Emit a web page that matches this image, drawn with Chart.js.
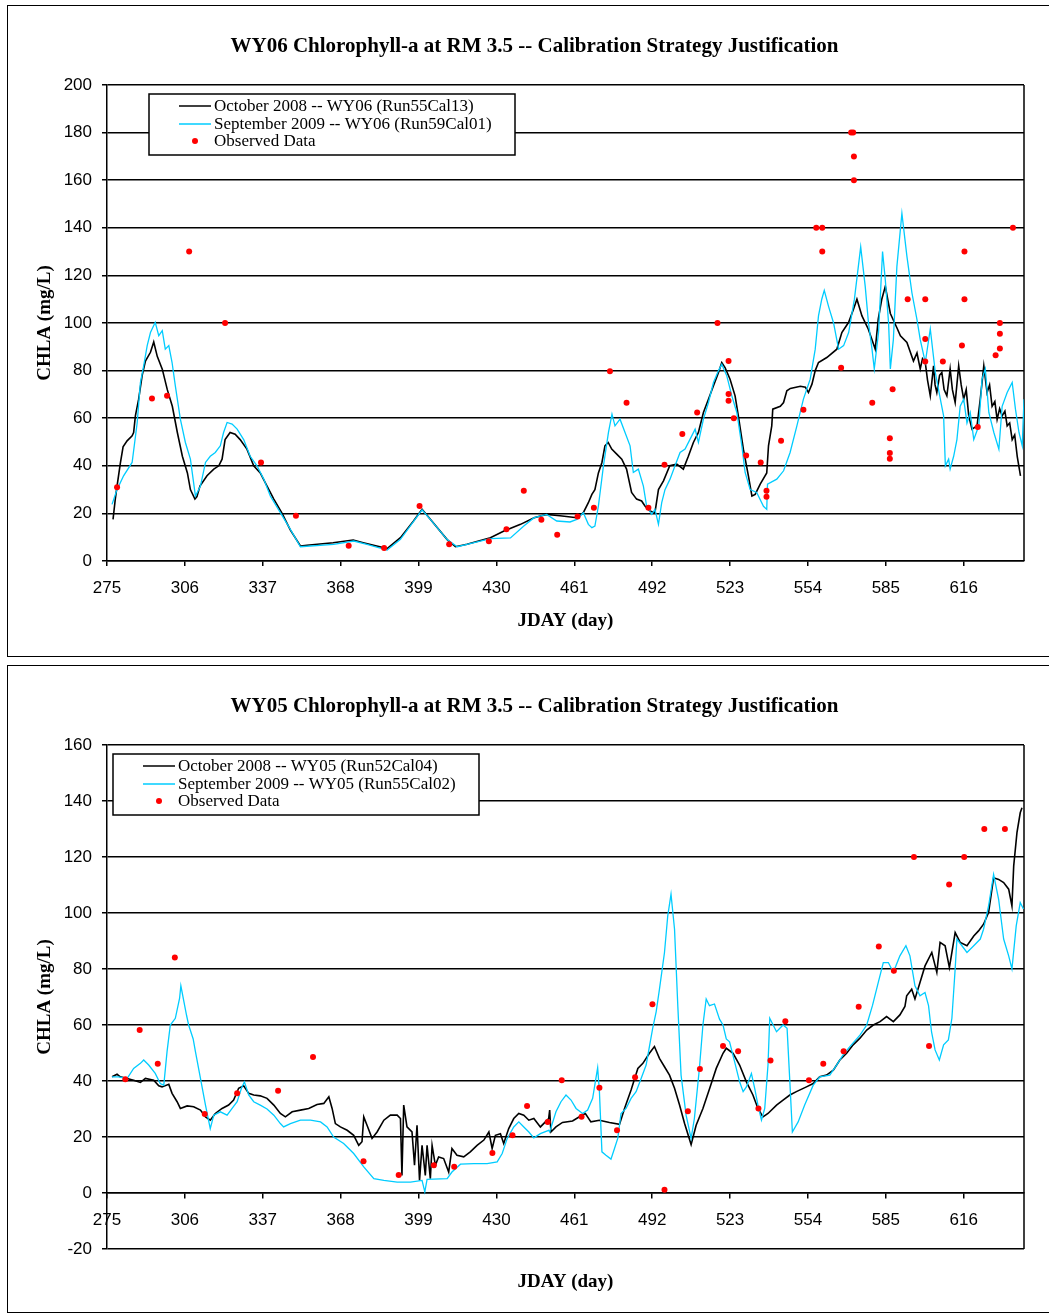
<!DOCTYPE html>
<html>
<head>
<meta charset="utf-8">
<script src="https://cdn.jsdelivr.net/npm/chart.js@4.4.1/dist/chart.umd.min.js"></script>
<style>
  body { margin: 0; background: #fff; width: 1049px; height: 1314px; overflow: hidden; position: relative; }
  .frame { position: absolute; left: 7px; width: 1080px; border: 1.5px solid #000; box-sizing: border-box; }
  #f1 { top: 5px; height: 652px; }
  #f2 { top: 665px; height: 648px; }
  canvas { position: absolute; left: 0; }
  #c1 { top: 0; }
  #c2 { top: 660px; }
</style>
</head>
<body>
<div class="frame" id="f1"></div>
<div class="frame" id="f2"></div>
<canvas id="c1" width="1049" height="660"></canvas>
<canvas id="c2" width="1049" height="654"></canvas>
<script>
// x ticks (JDAY) shared by both charts
const xTickDays = [275, 306, 337, 368, 399, 430, 461, 492, 523, 554, 585, 616];
const yTicksWY06 = [0, 20, 40, 60, 80, 100, 120, 140, 160, 180, 200];
const yTicksWY05 = [-20, 0, 20, 40, 60, 80, 100, 120, 140, 160];

// WY06 - [day, chla]
const wy06Oct = [
  [277.4,17.5],[278.3,26],[279,31.5],[280.3,41],[281.4,48],[283,50.5],[285,52.6],[285.6,54],[286.3,61],[287.6,68],
  [289,78],[290.3,84],[292.3,87.7],[293.6,92],[295,86],[297,80.6],[299,72],[301,65],[303,54],[305,44],
  [307,37],[308.2,30],[310,26],[310.8,27],[312,31.5],[314.8,35.8],[317.5,38.6],[319.5,40],[320.8,42.8],[322,51],
  [324,54],[326,53.3],[328,51],[330.7,47],[333.4,40],[336,37],[338.7,31.5],[341.4,26],[344.7,20],[348,13],
  [352,6.3],[354.6,6.6],[365,7.7],[373,8.8],[377,7.7],[386.5,5.2],[391.8,9.8],[397,16.8],[400.4,21.7],[403.7,17.5],
  [410.4,9],[413.7,6],[418.3,7],[427.6,9.8],[433,12.6],[439.6,15.4],[445,18.2],[450,19.6],[455.3,19],[462,18.2],
  [464.6,20.3],[466.6,24.5],[468,28],[469.2,30],[470.6,37],[472,41.4],[473.2,48.4],[474.5,49.8],[475.9,47],[477.9,44.9],
  [479.9,42.8],[481.8,38.6],[483.8,28.8],[485.8,26],[487.8,25.2],[489.2,23],[491.1,21],[493.1,20.3],[494.5,30],[496.5,33.7],
  [499,40],[501.8,40.7],[504.4,38.6],[506.4,44],[508.4,49.8],[510.4,54],[512.4,62.4],[514.4,68],[516.4,73.6],[518.4,79.2],
  [519.7,83.4],[521,81.3],[523,76.4],[525,69.4],[526.3,61],[528.3,47],[530.3,35.8],[531.7,27.3],[533,28],[535,32.3],
  [537.6,37],[538.3,48.4],[539.6,56.8],[540,63.8],[543,65],[544.3,66.6],[545.6,71.5],[547,72.5],[551,73.4],[553,73],
  [554.2,70.8],[555.6,74.3],[556.9,80],[558.2,83.4],[561.5,85.5],[565.5,89],[567.5,96],[570.2,100.3],[572.2,106],[573.5,110],
  [575.5,103],[578,97.5],[579.5,93],[580.8,89],[582,101.7],[583.4,110],[584.8,115.4],[586.8,104],[589.4,98],[590.8,94.6],
  [593.4,91.8],[596,84],[597.4,87.4],[598.7,80.7],[599.6,85],[600.7,83.4],[601.6,76],[602.7,69.4],[604,82],[604.6,74],
  [605.3,70.8],[606.4,78],[607.3,79.2],[608.2,72],[609.3,69.4],[610.6,80.7],[611.5,72],[612.6,66.6],[614,82],[615,74],
  [616,68],[617,72],[618,61],[619.3,55.4],[621.3,56.8],[622.6,68],[624,82],[625.3,70.8],[626.3,74],[627.3,65],
  [628.4,67],[629.3,59.5],[630.3,64],[631.3,61],[632.4,63],[633.3,56.8],[634.3,58],[635.3,51],[636.3,53],[637.3,44],
  [638.6,35.8]
];
const wy06Sep = [
  [277,23.8],[279,30],[281.6,35.8],[285,41.4],[287,58],[288.3,75],[289.6,82],[291,90.5],[292.3,96],[294.2,100.3],
  [295.6,94.7],[297,96.8],[298.2,89],[299.6,90.5],[300.9,83.4],[302.2,73.6],[304.2,59.6],[306.2,49.8],[308.2,42.8],[310.2,27.3],
  [312.2,31.5],[314.2,41.4],[316.1,44],[318.1,45.6],[320.1,48.4],[321.4,54],[322.8,58.2],[324.8,57.5],[326.8,55.4],[329.4,51],
  [332,44],[334.7,40],[337.4,34.4],[340,27.3],[344,20.3],[348,13.3],[352,6],[365.2,7],[373.2,8.4],[378.5,7],
  [386.5,4.6],[391.8,9.1],[400.4,21.5],[403.7,17.5],[410.4,9],[414.4,6],[418.3,7],[427.6,9.4],[435.6,9.7],[440.9,14.7],
  [445,18.2],[450,19.6],[454,16.8],[459.3,16.4],[462,17.5],[464.6,20.3],[466.6,15.4],[468,14],[469.2,14.7],[470.6,23.1],
  [472.6,40],[474.6,54],[476,61.7],[477.2,56.8],[479.2,59.6],[481.2,54],[483.2,48.4],[484.5,37.2],[486.5,38.6],[488.5,31.5],
  [489.8,23],[491.8,19.6],[493.1,21.7],[494.5,15.4],[495.8,24.5],[497.1,30],[499.1,34.4],[501.1,40],[503.1,45.6],[505.1,47],
  [507.1,51.2],[509.1,55.4],[510.4,49.8],[512.4,59.6],[514.4,66.6],[516.4,75],[518.4,80],[519.7,82.7],[521.7,77.8],[523.7,69.4],
  [525.7,62.4],[527.7,48.4],[529,37.2],[531,30],[533.6,28.8],[536.3,23],[537.6,21.7],[537.9,32.3],[541.6,34.4],[544.3,37.9],
  [546.9,45.6],[549.6,56.8],[552.2,68],[554.9,76.4],[556.9,89],[558.2,103],[559.5,110],[560.5,113.7],[562.2,107],[564.2,100],
  [566.2,89],[568.2,90.5],[570.2,96],[572.5,110],[575,132],[576.8,115.4],[578.1,100],[579.5,89],[580.4,80.7],[582.1,96],
  [583.7,130],[584.8,118],[586.1,100],[586.8,80.7],[588,93],[589.4,123.7],[591.4,146],[593.4,128],[595.4,112.6],[597.4,101.4],
  [598.7,93],[600.7,83.4],[602.7,97.5],[604.7,79.2],[606.7,68],[608,61],[608.7,40],[610,42.8],[610.6,38.6],[612,44],
  [613.3,51],[614.6,65],[616,68],[617.3,58],[618.6,62.4],[620,51],[622,56.8],[623.3,76.4],[624.6,80.7],[626,62.4],
  [628,54],[630,47],[631.3,65],[633.3,70.8],[635.3,75],[636.6,63.8],[638,54],[639.3,48.4],[640,68]
];
const wy06Obs = [
  [279,31],[292.9,68.3],[298.9,69.4],[307.7,130],[322,100],[336.3,41.4],[350.2,19],[371.2,6.4],[385.3,5.5],[399.4,23.1],
  [411.2,7],[427,8.3],[434,13.3],[440.9,29.5],[447.9,17.3],[454.2,11],[462.3,18.7],[468.8,22.4],[475.2,79.7],[481.8,66.5],
  [490.5,22.4],[496.9,40.4],[504,53.4],[509.9,62.4],[518,100],[522.4,84],[522.4,70.2],[522.4,67.3],[524.5,60],[529.4,44.3],
  [535.2,41.4],[537.5,29.5],[537.5,27],[543.3,50.5],[552.2,63.5],[557.3,140],[559.7,140],[559.7,130],[567.2,81.2],[571.2,180],
  [572,180],[572.3,170],[572.3,160],[579.6,66.5],[586.6,51.6],[586.6,45.4],[586.6,43],[587.7,72.2],[593.7,110],[600.7,110],
  [600.7,93.3],[600.7,83.8],[607.7,83.8],[615.3,90.5],[616.3,130],[616.3,110],[621.6,56.3],[628.7,86.4],[630.4,89.3],[630.4,95.5],
  [630.4,100],[635.6,140]
];

// WY05 - [day, chla]
const wy05Oct = [
  [277,41.5],[279,42.4],[280.3,41.5],[283,40.9],[285.6,40.3],[288.3,39.5],[290.3,40.9],[293.6,40.3],[295.6,38.3],[296.9,37.9],
  [299.6,38.8],[300.9,35.6],[302.9,32.6],[304.2,30.2],[306.9,31.1],[309.5,30.8],[312.2,29.6],[314.2,27.2],[316.1,26],[318.1,28.4],
  [320.8,30.2],[323.4,31.4],[325.4,33.2],[327.4,37.4],[329.4,38.3],[331.4,35.6],[333.4,35],[336,34.7],[338.7,33.8],[341.4,31.4],
  [344,28.4],[346,27.2],[348.7,29],[352,29.6],[355.3,30.2],[358.6,31.6],[361.3,32],[363.3,34.4],[364.6,30.2],[365.9,24.8],
  [367.9,23.6],[370.6,22.4],[373.2,20.6],[375.2,17],[376.5,18.3],[377.2,27.2],[378.5,24.2],[380.5,19.5],[382.5,21.8],[385.2,26],
  [387.8,27.8],[390.5,27.8],[391.8,26.6],[392.4,6.3],[393.1,31.4],[394.4,23.6],[396.4,21.8],[397.4,9.9],[398.4,24.2],[399.4,4.5],
  [400.4,17],[401.7,6.3],[402.4,17],[403.7,5.1],[404.4,17],[405.7,9.9],[407,12.9],[409,12.3],[411,7.5],[412.3,15.9],
  [414.3,13.5],[417,12.9],[419.6,14.7],[422.3,17],[425,18.9],[427,21.8],[428.3,15.9],[429.6,20.6],[431.6,21.2],[432.9,17.7],
  [434.9,23],[436.9,26.6],[438.9,28.4],[440.9,27.8],[442.9,26],[444.9,26.6],[447.5,23.6],[450.8,26.6],[451.2,29.6],[451.7,21.8],
  [453.7,23.6],[456.3,25.2],[460.3,25.7],[463.7,27.6],[465.4,28.4],[467.6,25.4],[471,26],[475,25.2],[479,24.5],[481,30.2],
  [483.6,36.8],[486.3,44.5],[488.3,46.3],[490.9,49.9],[492.9,52.3],[494.9,48.1],[496.9,45.1],[498.9,42.1],[500.9,37.4],[502.9,31.4],
  [504.9,24.8],[507.5,17.3],[509.5,24.2],[512.2,30.2],[514.9,37.4],[517.5,44.5],[520.2,49.9],[521.5,51.7],[524.2,49.9],[526.8,45.7],
  [529.5,39.7],[532.1,35],[534.1,30.2],[536.1,27.2],[538.1,28.4],[541.5,31.4],[544.1,33.2],[546.8,35],[549.4,36.2],[553.4,37.9],
  [556.1,39.1],[558.7,41.5],[561.4,42.1],[564.1,43.9],[566.7,47.5],[569.4,49.9],[572,52.9],[574.7,55.3],[577.4,58.2],[580,60],
  [582.7,61.2],[585.3,63],[588,61.2],[590.6,63.6],[592.6,66.6],[593.3,70.4],[595.3,72.8],[596.6,69.3],[598.6,75.2],[600.6,81.1],
  [603.3,85.9],[605.3,78.8],[606.6,89.5],[608.6,88.3],[610.3,80.5],[612.6,93],[614.6,89.5],[617.3,88.3],[620,91.8],[621.9,93.6],
  [623.9,96],[625.9,100.2],[627.9,112.6],[629.9,112],[631.9,110.9],[633.9,108.5],[635.2,102.5],[635.9,116.8],[637.2,128.7],[638.5,135.8],
  [639.2,137.6]
];
const wy05Sep = [
  [277,41.5],[279.6,41.5],[283,40.9],[285.6,44.5],[288.3,46.3],[289.6,47.5],[291.6,45.7],[294.2,42.7],[296.2,39.1],[297.6,38.5],
  [298.9,50.5],[300.2,60],[302.2,62.4],[303.9,69.6],[304.4,74],[306.7,63.3],[307.5,60],[309.3,55],[310.2,50.5],[312.2,40.9],
  [314.2,31.4],[316.1,23],[317.5,27.8],[320.1,29],[322.8,27.8],[324.8,30.2],[326.8,32.6],[328.7,37.9],[329.7,39.7],[331.4,35],
  [333.4,32.6],[336,31.4],[338.7,30],[341.4,27.8],[344,24.8],[345.3,23.6],[348,24.8],[352,26],[356,26],[360,25.4],
  [362.6,23.6],[365.2,20],[369.2,17.7],[373.2,14.1],[377.2,9.3],[381.2,5.1],[385.2,4.5],[390.5,3.9],[395.8,3.9],[400.4,4.5],
  [401.5,0.4],[402.4,4.9],[410.4,5.1],[412.3,7.5],[415.7,10.3],[421,10.5],[426.3,10.5],[430.3,11.1],[432.3,14.1],[434.3,19.5],
  [436.9,23.6],[438.9,25.4],[440.9,23.6],[442.9,21.8],[444.9,19.7],[447.5,21.2],[450.8,22.4],[451.2,21.8],[453.7,29],[455.7,32.6],
  [457.7,35],[459.7,33.2],[461.7,30.2],[464.3,28.4],[466.3,29.6],[468.3,33.8],[469.6,40.9],[470.3,44.7],[471,36.2],[472,14.7],
  [473.6,13.5],[475.6,12.1],[477,15.9],[478.3,19.5],[479.6,28.4],[481.6,30.2],[483.6,33.8],[485.6,36.2],[487.6,40.9],[489.6,45.7],
  [490.9,52.3],[492.2,58.8],[493.6,64.8],[494.9,72.8],[496.9,85.9],[498.2,99],[499.5,106.7],[500.9,94.2],[502.2,66.9],[503.5,42.1],
  [505.5,27.8],[507.5,19.5],[508.8,26.6],[510.8,44.5],[512.2,60],[513.5,69.3],[514.8,66.9],[516.8,67.5],[518.8,62.1],[520.2,60],
  [521.5,55],[522.8,54],[524.8,46.9],[526.8,39.7],[528.2,36.2],[529.5,37.9],[531.5,42.7],[532.8,37.4],[534.1,31.4],[535.5,26],
  [536.8,30.2],[538.1,45.7],[538.8,62.4],[541.5,57.6],[544.1,60],[545.7,58.8],[546.8,39.7],[547.8,21.8],[550.1,25.4],[552.7,31.4],
  [556.1,38.5],[558.7,41.5],[562.7,42.1],[565.4,45.7],[568,49.3],[570.7,52.3],[574.7,56.4],[577.4,60],[579.7,67],[582,75.2],
  [584,82.3],[586,82.3],[588,78.8],[590.6,84.7],[593,88.3],[594.6,84.7],[596.6,74],[598.6,70.4],[600.6,71.6],[602,66.9],
  [603.2,57.5],[604.6,51.1],[606.3,47.5],[608,52.9],[609.9,54.7],[611.3,62.4],[612.6,80],[613.3,90.7],[615.3,88.3],[617.3,85.9],
  [620,88.3],[622.6,90.7],[623.9,94.2],[625.9,102.5],[627.9,113.8],[629.9,104.9],[631.9,90.7],[633.9,84.7],[635.2,80],[636.9,95.4],
  [638.5,103.7],[639.8,101.4]
];
const wy05Obs = [
  [282.3,40.6],[288,58.2],[295.2,46.2],[302,84.1],[313.9,28.2],[326.8,35.6],[343.1,36.5],[357,48.6],[377.1,11.3],[391.1,6.4],
  [405.1,9.9],[413.2,9.4],[428.4,14.3],[436.4,20.6],[442.2,31.1],[450.4,25.4],[456,40.3],[463.9,27.2],[471,37.6],[478,22.4],
  [485.2,41.3],[492.1,67.4],[496.9,1.2],[506.2,29.2],[511,44.3],[520.2,52.5],[526.2,50.6],[534.3,30.2],[539.1,47.3],[545,61.3],
  [554.4,40.3],[560.1,46.2],[568.2,50.6],[574.2,66.5],[582.2,88],[588.2,79.4],[596.2,120],[602.2,52.5],[610.2,110.2],[616.2,120],
  [624.2,130],[632.4,130]
];

const BLACK = '#000000';
const CYAN = '#00ccff';
const RED = '#ff0000';
const SERIF = '"Liberation Serif", "Times New Roman", serif';
const SANS = '"Liberation Sans", Arial, sans-serif';

function pts(arr) {
  return arr.map(p => ({ x: p[0], y: p[1] }));
}

// titles, legend box and right border of the plot
const decor = {
  id: 'decor',
  beforeDatasetsDraw(chart) {
    const a = chart.chartArea, ctx = chart.ctx;
    ctx.save();
    ctx.strokeStyle = '#000';
    ctx.lineWidth = 1.5;
    ctx.beginPath();
    ctx.moveTo(a.right, a.top);
    ctx.lineTo(a.right, a.bottom);
    ctx.stroke();
    ctx.restore();
  },
  afterDraw(chart, args, o) {
    const a = chart.chartArea, ctx = chart.ctx;
    ctx.save();
    ctx.fillStyle = '#000';
    ctx.textAlign = 'center';
    ctx.textBaseline = 'alphabetic';
    ctx.font = 'bold 21px ' + SERIF;
    ctx.fillText(o.title, 534.5, 52);

    ctx.textBaseline = 'middle';
    ctx.font = 'bold 19px ' + SERIF;
    ctx.fillText('JDAY (day)', (a.left + a.right) / 2, o.xTitleY);

    // legend
    const lx = o.legendX, ly = 94;
    ctx.fillStyle = '#fff';
    ctx.fillRect(lx, ly, 366, 61);
    ctx.strokeStyle = '#000';
    ctx.lineWidth = 1.5;
    ctx.strokeRect(lx, ly, 366, 61);
    const rows = [106, 124, 141];
    const ds = chart.data.datasets;
    ctx.textAlign = 'left';
    ctx.font = '17px ' + SERIF;
    ds.forEach((d, i) => {
      const y = rows[i];
      if (d.showLine) {
        ctx.strokeStyle = d.borderColor;
        ctx.lineWidth = 1.5;
        ctx.beginPath();
        ctx.moveTo(lx + 30, y);
        ctx.lineTo(lx + 62, y);
        ctx.stroke();
      } else {
        ctx.fillStyle = d.backgroundColor;
        ctx.beginPath();
        ctx.arc(lx + 46, y, 3, 0, Math.PI * 2);
        ctx.fill();
      }
      ctx.fillStyle = '#000';
      ctx.fillText(d.label, lx + 65, y + 1);
    });
    ctx.restore();
  }
};

function makeChart(id, cfg) {
  return new Chart(document.getElementById(id), {
    type: 'scatter',
    data: {
      datasets: [
        { label: cfg.labels[0], data: pts(cfg.oct), showLine: true, borderColor: BLACK, borderWidth: 1.6, pointRadius: 0, order: 2 },
        { label: cfg.labels[1], data: pts(cfg.sep), showLine: true, borderColor: CYAN, borderWidth: 1.3, pointRadius: 0, order: 1 },
        { label: 'Observed Data', data: pts(cfg.obs), showLine: false, backgroundColor: RED, borderWidth: 0, pointRadius: 3, order: 0 }
      ]
    },
    options: {
      responsive: false,
      animation: false,
      layout: { padding: { top: 85, right: 25, left: 0, bottom: cfg.padBottom } },
      plugins: {
        legend: { display: false },
        tooltip: { enabled: false },
        decor: { title: cfg.title, legendX: cfg.legendX, xTitleY: cfg.xTitleY }
      },
      scales: {
        x: {
          type: 'linear',
          min: 275,
          max: 640,
          position: cfg.xPosition,
          afterBuildTicks: s => { s.ticks = xTickDays.map(v => ({ value: v })); },
          afterFit: s => { s.height = cfg.xHeight; },
          grid: { drawOnChartArea: false, drawTicks: true, tickLength: 5, color: '#000', lineWidth: 1.5 },
          border: { color: '#000', width: 1.5 },
          ticks: { font: { family: SANS, size: 17 }, color: '#000', padding: 12, maxRotation: 0, autoSkip: false }
        },
        y: {
          min: cfg.yTicks[0],
          max: cfg.yTicks[cfg.yTicks.length - 1],
          position: 'left',
          afterBuildTicks: s => { s.ticks = cfg.yTicks.map(v => ({ value: v })); },
          afterFit: s => { s.width = 107; },
          grid: { color: '#000', lineWidth: 1.5, tickLength: 5 },
          border: { color: '#000', width: 1.5 },
          ticks: { font: { family: SANS, size: 17 }, color: '#000', padding: 10 },
          title: {
            display: true,
            text: 'CHLA (mg/L)',
            color: '#000',
            font: { family: SERIF, size: 19, weight: 'bold' },
            padding: { top: 34, bottom: 0 }
          }
        }
      }
    },
    plugins: [decor]
  });
}

makeChart('c1', {
  title: 'WY06 Chlorophyll-a at RM 3.5 -- Calibration Strategy Justification',
  labels: ['October 2008 -- WY06 (Run55Cal13)', 'September 2009 -- WY06 (Run59Cal01)'],
  oct: wy06Oct, sep: wy06Sep, obs: wy06Obs,
  yTicks: yTicksWY06,
  xPosition: 'bottom',
  xHeight: 99,
  padBottom: 0,
  xTitleY: 621,
  legendX: 149
});

// x axis sits on the zero line; the room under the plot comes from padding
makeChart('c2', {
  title: 'WY05 Chlorophyll-a at RM 3.5 -- Calibration Strategy Justification',
  labels: ['October 2008 -- WY05 (Run52Cal04)', 'September 2009 -- WY05 (Run55Cal02)'],
  oct: wy05Oct, sep: wy05Sep, obs: wy05Obs,
  yTicks: yTicksWY05,
  xPosition: { y: 0 },
  xHeight: 0,
  padBottom: 65,
  xTitleY: 622,
  legendX: 113
});
</script>
</body>
</html>
